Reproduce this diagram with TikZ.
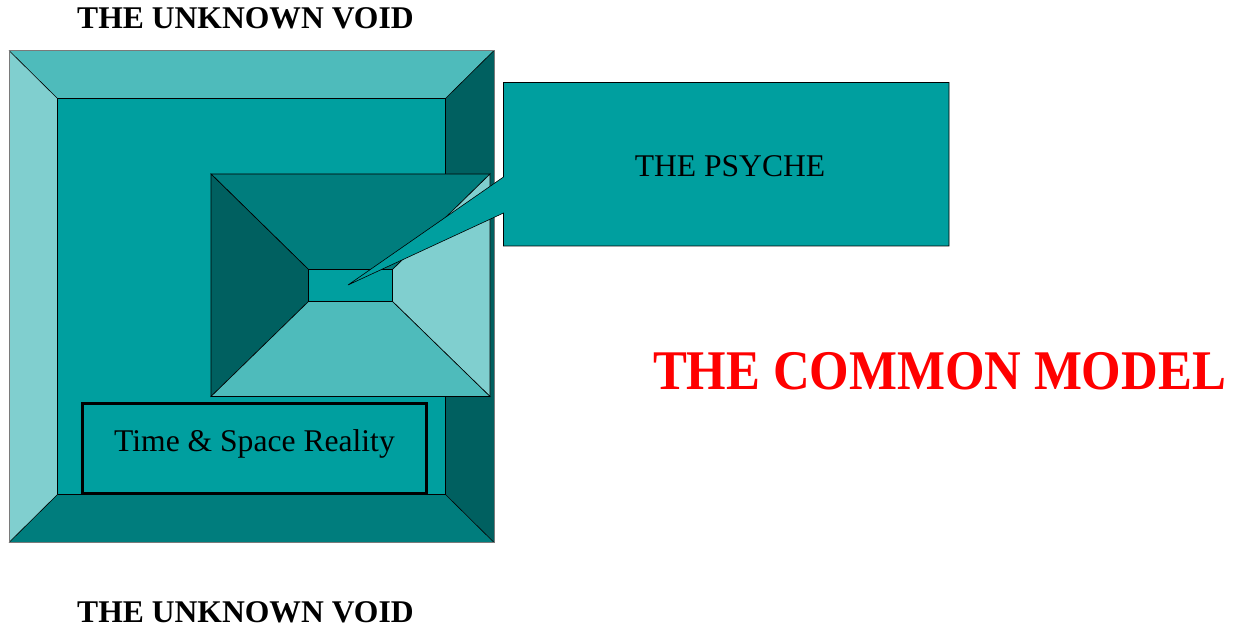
\documentclass[tikz,border=0pt]{standalone}
\usepackage{fontspec}
\setmainfont{Liberation Serif}
\definecolor{tealface}{HTML}{009F9F}
\definecolor{tealtop}{HTML}{4EBBBB}
\definecolor{teallight}{HTML}{80CFCF}
\definecolor{tealdark}{HTML}{006060}
\definecolor{tealmid}{HTML}{007D7D}
\definecolor{rimgray}{HTML}{7A7A7A}
\tikzset{
  facet/.style={draw=black, line width=0.6pt, line join=miter},
  titletext/.style={font=\fontsize{31.6}{36}\selectfont\bfseries, inner sep=0pt, anchor=base west},
  plaintext/.style={font=\fontsize{31.6}{36}\selectfont, inner sep=0pt, anchor=base},
}
\begin{document}
\begin{tikzpicture}[x=1pt,y=-1pt]
\useasboundingbox (0,0) rectangle (1239,628);

% outer bevelled frame
\coordinate (OA) at (9,50.5);   \coordinate (OB) at (494,50.5);
\coordinate (OC) at (494,542.5); \coordinate (OD) at (9,542.5);
\coordinate (IA) at (57.5,98.5);  \coordinate (IB) at (445.5,98.5);
\coordinate (IC) at (445.5,494.5); \coordinate (ID) at (57.5,494.5);
\fill[tealtop]   (OA) -- (OB) -- (IB) -- (IA) -- cycle;
\fill[teallight] (OA) -- (IA) -- (ID) -- (OD) -- cycle;
\fill[tealdark]  (OB) -- (OC) -- (IC) -- (IB) -- cycle;
\fill[tealmid]   (OD) -- (ID) -- (IC) -- (OC) -- cycle;
\fill[tealface]  (IA) rectangle (IC);
\draw[line width=0.6pt] (OA) -- (IA) -- (IB) -- (OB);
\draw[line width=0.6pt] (IA) -- (ID) -- (OD);
\draw[line width=0.6pt] (ID) -- (IC) -- (OC);
\draw[line width=0.6pt] (IC) -- (IB);
\draw[rimgray, line width=1pt] (OA) rectangle (OC);

% recessed pyramid
\coordinate (PA) at (211,174);  \coordinate (PB) at (490,174);
\coordinate (PC) at (490,396.5); \coordinate (PD) at (211,396.5);
\coordinate (QA) at (308.5,269.5); \coordinate (QB) at (392.5,269.5);
\coordinate (QC) at (392.5,301.5); \coordinate (QD) at (308.5,301.5);
\filldraw[facet, fill=tealmid]   (PA) -- (PB) -- (QB) -- (QA) -- cycle;
\filldraw[facet, fill=tealdark]  (PA) -- (QA) -- (QD) -- (PD) -- cycle;
\filldraw[facet, fill=teallight] (PB) -- (PC) -- (QC) -- (QB) -- cycle;
\filldraw[facet, fill=tealtop]   (PD) -- (QD) -- (QC) -- (PC) -- cycle;
\filldraw[facet, fill=tealface]  (QA) rectangle (QC);

% time and space box
\draw[line width=3pt, fill=tealface] (82.5,403.5) rectangle (426.5,493.5);
\node[plaintext] (tsr) at (254.5,451) {Time \& Space Reality};

% callout
\filldraw[facet, fill=tealface]
  (503.5,82.5) -- (949,82.5) -- (949,246) -- (503.5,246) -- (503.5,213)
  -- (348,285) -- (503.5,177) -- cycle;
\node[plaintext] (psyche) at (730,177) {THE PSYCHE};

% titles
\node[titletext] (voidtop) at (77,29) {THE UNKNOWN VOID};
\node[titletext] (voidbot) at (77,622) {THE UNKNOWN VOID};
\node[inner sep=0pt, anchor=base, text=red,
      font=\fontsize{56}{64}\selectfont\bfseries] (model) at (939.5,389)
  {\scalebox{0.907}[1]{THE COMMON MODEL}};
\end{tikzpicture}
\end{document}
